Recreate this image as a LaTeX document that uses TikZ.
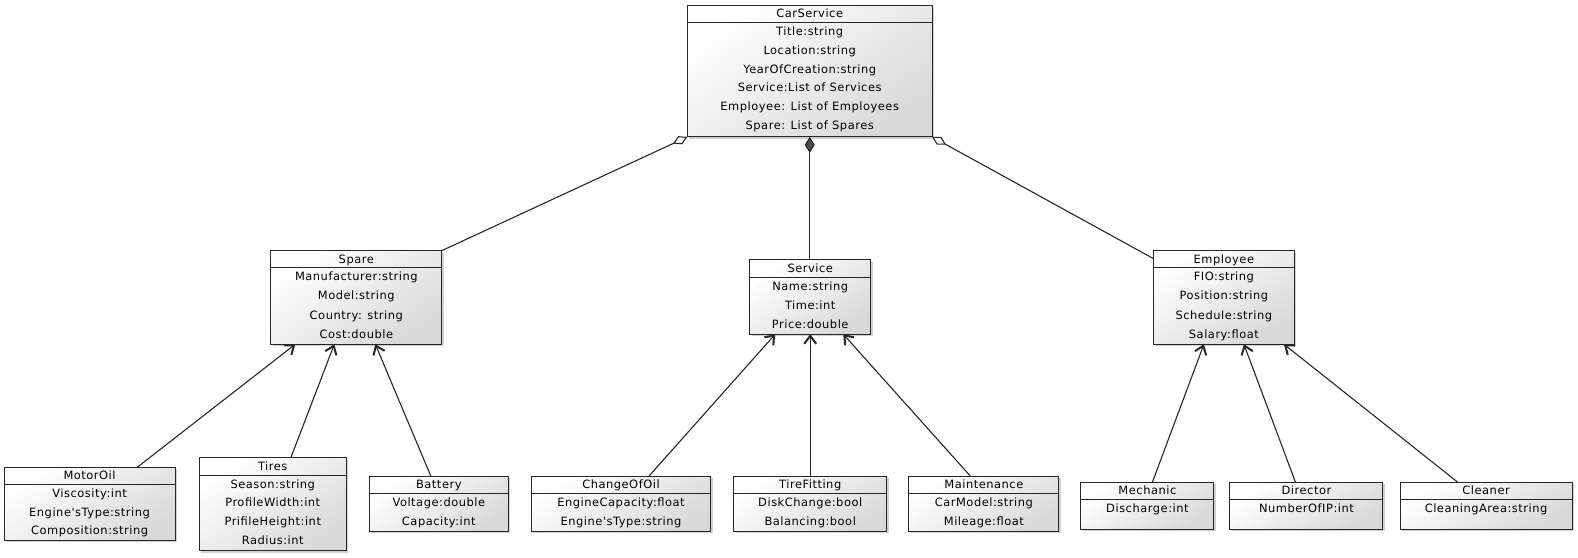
\documentclass[tikz,border=0pt]{standalone}
\usepackage{fontspec}
\setmainfont{DejaVu Sans}[LetterSpace=4.5,Ligatures=TeXOff]
\usetikzlibrary{arrows.meta,shadows,calc}
\tikzset{
  umlbox/.style={draw=black!85, line width=1bp, rectangle, inner sep=0pt, outer sep=0pt,
    top color=white, bottom color=black!15, shading angle=35,
    drop shadow={shadow xshift=2bp, shadow yshift=-2bp, opacity=0.3, fill=black!60}},
  umltext/.style={inner sep=0pt, text height=8bp, text depth=2bp, font=\fontsize{11.5}{13}\selectfont},
  conn/.style={draw=black!85, line width=1.1bp},
  gen/.style={conn, -{Straight Barb[length=8bp, width=12bp, line width=2bp]}},
  agg/.style={conn, {Diamond[open, length=16bp, width=9bp, line width=1.1bp]}-},
  comp/.style={conn, {Diamond[length=16bp, width=10bp, fill=black!70]}-},
}
% #1 name, #2 x1, #3 y1, #4 x2, #5 y2, #6 title line y, #7 title, #8 rows, #9 row spacing
\newcommand\umlclass[9]{%
  \node[umlbox, anchor=north west, minimum width={(#4-#2)*1.0065bp}, minimum height={(#5-#3)*1.0065bp}] (#1) at (#2,#3) {};
  \draw[black!85, line width=1bp] (#2,#6) -- (#4,#6);
  \node[umltext] (#1-t) at ({(#2+#4)/2},{(#3+#6)/2+1}) {#7};
  \foreach \r [count=\i] in {#8} {
    \node[umltext] (#1-r\i) at ({(#2+#4)/2},{#6+10+(\i-1)*#9}) {\r};
  }%
}
\begin{document}
\begin{tikzpicture}[x=1.0065bp,y=-1.0065bp]
\useasboundingbox (0bp,0bp) rectangle (1578bp,-558bp);

\umlclass{carservice}{683}{5}{926}{136}{22}{CarService}{Title:string,Location:string,YearOfCreation:string,Service:List of Services,Employee: List of Employees,Spare: List of Spares}{18.8}
\umlclass{spare}{269}{249}{439}{342}{266}{Spare}{Manufacturer:string,Model:string,Country: string,Cost:double}{19}
\umlclass{service}{745}{258}{865}{332}{276}{Service}{Name:string,Time:int,Price:double}{18.7}
\umlclass{employee}{1146}{249}{1286}{342}{266}{Employee}{FIO:string,Position:string,Schedule:string,Salary:float}{19}

\umlclass{motoroil}{4}{464}{174}{537}{481}{MotorOil}{Viscosity:int,Engine'sType:string,Composition:string}{18.7}
\umlclass{tires}{198}{455}{344}{547}{472}{Tires}{Season:string,ProfileWidth:int,PrifileHeight:int,Radius:int}{18.7}
\umlclass{battery}{367}{473}{505}{528}{490}{Battery}{Voltage:double,Capacity:int}{18.7}
\umlclass{changeofoil}{528}{473}{706}{528}{490}{ChangeOfOil}{EngineCapacity:float,Engine'sType:string}{18.7}
\umlclass{tirefitting}{729}{473}{881}{528}{490}{TireFitting}{DiskChange:bool,Balancing:bool}{18.7}
\umlclass{maintenance}{903}{473}{1052}{528}{490}{Maintenance}{CarModel:string,Mileage:float}{18.7}
\umlclass{mechanic}{1074}{479}{1206}{526}{496.5}{Mechanic}{Discharge:int}{18.7}
\umlclass{director}{1222}{479}{1374}{526}{496.5}{Director}{NumberOfIP:int}{18.7}
\umlclass{cleaner}{1391}{479}{1562}{526}{496.5}{Cleaner}{CleaningArea:string}{18.7}

% associations
\draw[agg] (carservice.south west) -- (spare.north east);
\draw[comp] (carservice.south) -- (carservice.south |- service.north);
\draw[agg] (carservice.south east) -- ([yshift=-8bp]employee.north west);

% generalizations
\draw[gen] ([xshift=48bp]motoroil.north) -- ([xshift=-61bp]spare.south);
\draw[gen] ([xshift=18bp]tires.north) -- ([xshift=-22bp]spare.south);
\draw[gen] ([xshift=-8bp]battery.north) -- ([xshift=19bp]spare.south);
\draw[gen] ([xshift=28bp]changeofoil.north) -- ([xshift=-35bp]service.south);
\draw[gen] (tirefitting.north) -- (tirefitting.north |- service.south);
\draw[gen] ([xshift=-13.5bp]maintenance.north) -- ([xshift=33bp]service.south);
\draw[gen] ([xshift=5bp]mechanic.north) -- ([xshift=-20bp]employee.south);
\draw[gen] ([xshift=-11bp]director.north) -- ([xshift=20bp]employee.south);
\draw[gen] ([xshift=-28.5bp]cleaner.north) -- ([xshift=60bp]employee.south);
\end{tikzpicture}
\end{document}
